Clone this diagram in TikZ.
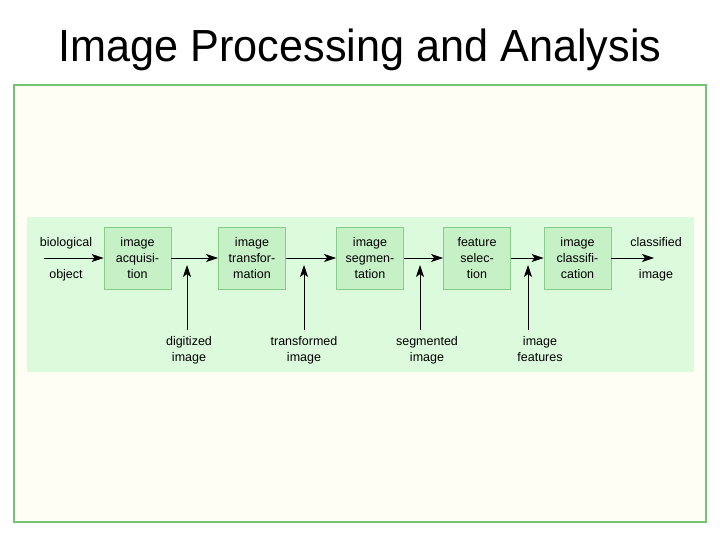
\documentclass[tikz,border=0pt]{standalone}
\usepackage{fontspec}
\setmainfont{Liberation Sans}
\usetikzlibrary{arrows.meta}
\definecolor{frameline}{HTML}{74C474}
\definecolor{framefill}{HTML}{FEFEF5}
\definecolor{panelfill}{HTML}{DCFADC}
\definecolor{boxfill}{HTML}{C6F0C6}
\definecolor{boxline}{HTML}{86CC86}
\tikzset{
  procbox/.style={draw=boxline, fill=boxfill, line width=0.8pt, minimum width=67pt, minimum height=62pt, inner sep=0pt, align=center, font=\fontsize{12.5}{16}\selectfont},
  lbl/.style={align=center, inner sep=0pt, font=\fontsize{12.5}{16}\selectfont},
  flow/.style={line width=0.8pt, -{Stealth[length=12pt, width=8pt, inset=3pt]}}
}
\begin{document}
\begin{tikzpicture}[x=1pt, y=-1pt]
\useasboundingbox (0,0) rectangle (720,540);
\fill[white] (0,0) rectangle (720,540);
\node[inner sep=0pt] (title) at (360,50) {\scalebox{0.96}[1]{\fontsize{45}{50}\selectfont Image Processing and Analysis}};
\draw[frameline, fill=framefill, line width=1.2pt] (14,85) rectangle (706,522);
\fill[panelfill] (27,217) rectangle (694,372);
\node[procbox] (b1) at (137.5,258) {};
\node[procbox] (b2) at (252,258) {};
\node[procbox] (b3) at (370,258) {};
\node[procbox] (b4) at (477,258) {};
\node[procbox] (b5) at (577.5,258) {};
\node[lbl] (t1) at (137.5,259) {image\strut\\acquisi-\strut\\tion\strut};
\node[lbl] (t2) at (252,259) {image\strut\\transfor-\strut\\mation\strut};
\node[lbl] (t3) at (370,259) {image\strut\\segmen-\strut\\tation\strut};
\node[lbl] (t4) at (477,259) {feature\strut\\selec-\strut\\tion\strut};
\node[lbl] (t5) at (577.5,259) {image\strut\\classifi-\strut\\cation\strut};
\node[lbl] (in) at (66,259) {biological\strut\\[16pt]object\strut};
\node[lbl] (out) at (656,259) {classified\strut\\[16pt]image\strut};
\coordinate (inS) at (44,258);
\coordinate (outE) at (654,258);
\node[lbl] (l1) at (189,350) {digitized\strut\\image\strut};
\node[lbl] (l2) at (304,350) {transformed\strut\\image\strut};
\node[lbl] (l3) at (427,350) {segmented\strut\\image\strut};
\node[lbl] (l4) at (540,350) {image\strut\\features\strut};
\coordinate (a1b) at (187,330); \coordinate (a1t) at (187,265);
\coordinate (a2b) at (304,330); \coordinate (a2t) at (304,265);
\coordinate (a3b) at (420,330); \coordinate (a3t) at (420,265);
\coordinate (a4b) at (528,330); \coordinate (a4t) at (528,265);
\draw[flow] (inS) -- (b1);
\draw[flow] (b1) -- (b2);
\draw[flow] (b2) -- (b3);
\draw[flow] (b3) -- (b4);
\draw[flow] (b4) -- (b5);
\draw[flow] (b5) -- (outE);
\draw[flow] (a1b) -- (a1t);
\draw[flow] (a2b) -- (a2t);
\draw[flow] (a3b) -- (a3t);
\draw[flow] (a4b) -- (a4t);
\end{tikzpicture}
\end{document}
